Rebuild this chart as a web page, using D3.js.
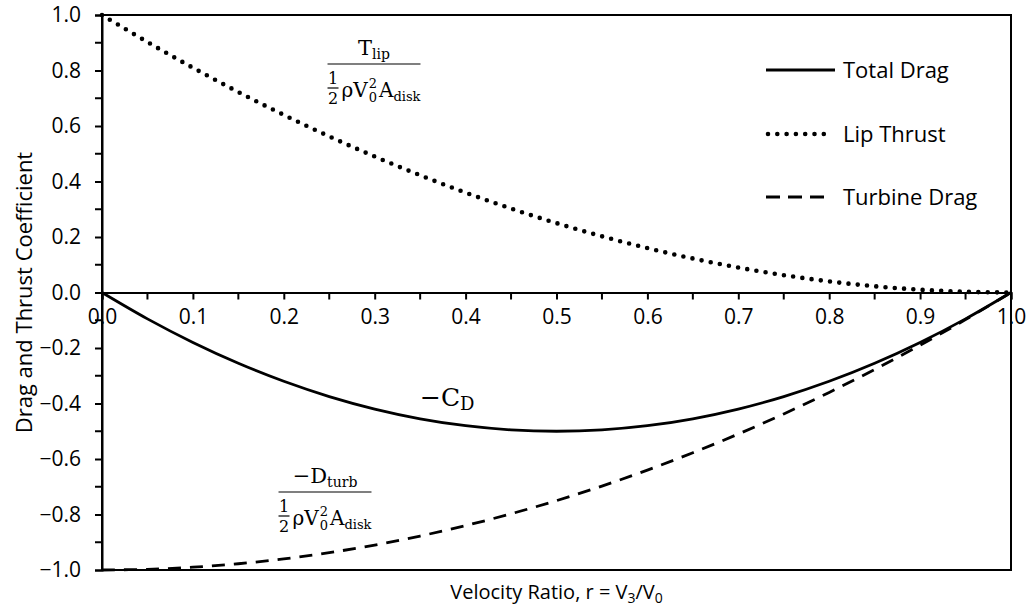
<!DOCTYPE html>
<html>
<head>
<meta charset="utf-8">
<script src="https://cdn.jsdelivr.net/npm/d3@7/dist/d3.min.js"></script>
<style>
  html, body { margin: 0; padding: 0; background: #fff; }
  svg { display: block; }
</style>
</head>
<body>
<svg id="chart" width="1032" height="611"></svg>
<script>
// Velocity ratio r = V3/V0
const ratio = [0, 0.05, 0.10, 0.15, 0.20, 0.25, 0.30, 0.35, 0.40, 0.45, 0.50,
               0.55, 0.60, 0.65, 0.70, 0.75, 0.80, 0.85, 0.90, 0.95, 1.00];
// Total drag coefficient (-C_D)
const totalDrag = [0, -0.095, -0.18, -0.255, -0.32, -0.375, -0.42, -0.455, -0.48, -0.495, -0.50,
                   -0.495, -0.48, -0.455, -0.42, -0.375, -0.32, -0.255, -0.18, -0.095, 0];
// Lip thrust coefficient
const lipThrust = [1.0, 0.9025, 0.81, 0.7225, 0.64, 0.5625, 0.49, 0.4225, 0.36, 0.3025, 0.25,
                   0.2025, 0.16, 0.1225, 0.09, 0.0625, 0.04, 0.0225, 0.01, 0.0025, 0];
// Turbine drag coefficient
const turbineDrag = [-1.0, -0.9975, -0.99, -0.9775, -0.96, -0.9375, -0.91, -0.8775, -0.84, -0.7975, -0.75,
                     -0.6975, -0.64, -0.5775, -0.51, -0.4375, -0.36, -0.2775, -0.19, -0.0975, 0];

const xTickValues = [0, 0.1, 0.2, 0.3, 0.4, 0.5, 0.6, 0.7, 0.8, 0.9, 1.0];
const xMinorTicks = [0.05, 0.15, 0.25, 0.35, 0.45, 0.55, 0.65, 0.75, 0.85, 0.95];
const yTickValues = [-1.0, -0.8, -0.6, -0.4, -0.2, 0.0, 0.2, 0.4, 0.6, 0.8, 1.0];
const yMinorTicks = [-0.9, -0.7, -0.5, -0.3, -0.1, 0.1, 0.3, 0.5, 0.7, 0.9];
const legendLabels = ["Total Drag", "Lip Thrust", "Turbine Drag"];

const svg = d3.select("#chart");
const plot = { left: 102, right: 1011, top: 15, bottom: 570 };

const x = d3.scaleLinear().domain([0, 1]).range([plot.left, plot.right]);
const y = d3.scaleLinear().domain([-1, 1]).range([plot.bottom, plot.top]);

const sans = '"Open Sans", sans-serif';
const serif = '"DejaVu Serif", serif';

// Plot frame
svg.append("rect")
  .attr("x", plot.left).attr("y", plot.top)
  .attr("width", plot.right - plot.left).attr("height", plot.bottom - plot.top)
  .attr("fill", "none").attr("stroke", "#000").attr("stroke-width", 2);

function styleAxis(g) {
  g.attr("font-family", sans).attr("font-size", 21);
  g.selectAll(".tick text").attr("fill", "#000");
  g.selectAll(".tick line").attr("stroke-width", 2);
  g.select(".domain").attr("stroke-width", 2);
}

// Y axis with every-0.1 ticks, labels every 0.2
const yAxis = svg.append("g")
  .attr("transform", `translate(${plot.left},0)`)
  .call(d3.axisLeft(y).tickValues(yTickValues).tickSize(7).tickPadding(14)
        .tickFormat(d3.format(".1f")))
  .call(styleAxis);
yAxis.append("g").selectAll("line").data(yMinorTicks).join("line")
  .attr("x1", 0).attr("x2", -7).attr("y1", d => y(d)).attr("y2", d => y(d))
  .attr("stroke", "#000").attr("stroke-width", 2);

// X axis on the zero line
const xAxis = svg.append("g")
  .attr("transform", `translate(0,${y(0)})`)
  .call(d3.axisBottom(x).tickValues(xTickValues).tickSize(7).tickPadding(10)
        .tickFormat(d3.format(".1f")))
  .call(styleAxis);
xAxis.append("g").selectAll("line").data(xMinorTicks).join("line")
  .attr("x1", d => x(d)).attr("x2", d => x(d)).attr("y1", 0).attr("y2", 7)
  .attr("stroke", "#000").attr("stroke-width", 2);

// Series
const lineGen = vals => d3.line()
  .x((d, i) => x(ratio[i]))
  .y(d => y(d))
  .curve(d3.curveCatmullRom)(vals);

const styles = [
  { dash: null, width: 2.8, cap: "butt" },
  { dash: "0 9.3", width: 4.6, cap: "round" },
  { dash: "13 9", width: 2.8, cap: "butt" }
];
[totalDrag, lipThrust, turbineDrag].forEach((vals, i) => {
  svg.append("path")
    .attr("d", lineGen(vals))
    .attr("fill", "none").attr("stroke", "#000")
    .attr("stroke-width", styles[i].width)
    .attr("stroke-linecap", styles[i].cap)
    .attr("stroke-dasharray", styles[i].dash);
});

// Legend
const legendRows = [70, 134, 197];
legendLabels.forEach((label, i) => {
  const st = styles[i];
  const x1 = 766, x2 = i === 1 ? 833 : (i === 2 ? 824 : 835);
  svg.append("line")
    .attr("x1", i === 1 ? 768 : x1).attr("x2", x2)
    .attr("y1", legendRows[i]).attr("y2", legendRows[i])
    .attr("stroke", "#000").attr("stroke-width", st.width)
    .attr("stroke-linecap", st.cap)
    .attr("stroke-dasharray", i === 1 ? "0 9.3" : (i === 2 ? "14 8" : null));
  svg.append("text")
    .attr("x", 843).attr("y", legendRows[i])
    .attr("dy", "0.35em")
    .attr("font-family", sans).attr("font-size", 22)
    .text(label);
});

// Axis titles
svg.append("text")
  .attr("x", (plot.left + plot.right) / 2).attr("y", 599)
  .attr("text-anchor", "middle")
  .attr("font-family", sans).attr("font-size", 20)
  .call(t => {
    t.append("tspan").text("Velocity Ratio, r = V");
    t.append("tspan").attr("font-size", 14).attr("dy", 4).text("3");
    t.append("tspan").attr("dy", -4).text("/V");
    t.append("tspan").attr("font-size", 14).attr("dy", 4).text("0");
  });

svg.append("text")
  .attr("transform", `translate(32,${y(0)}) rotate(-90)`)
  .attr("text-anchor", "middle")
  .attr("font-family", sans).attr("font-size", 22)
  .text("Drag and Thrust Coefficient");

// Annotated coefficient expressions
function fraction(cx, barY, numMain, numSub) {
  const g = svg.append("g");
  const put = (txt, px, py, size, anchor) => {
    const t = g.append("text").attr("x", px).attr("y", py)
      .attr("font-family", serif).attr("font-size", size)
      .attr("text-anchor", anchor || "start").text(txt);
    return t.node().getComputedTextLength();
  };
  // denominator: (1/2) rho V0^2 A_disk
  const hw = 11;
  put("1", hw / 2, barY + 20, 16, "middle");
  put("2", hw / 2, barY + 40, 16, "middle");
  g.append("line").attr("x1", 0).attr("x2", hw)
    .attr("y1", barY + 24).attr("y2", barY + 24)
    .attr("stroke", "#000").attr("stroke-width", 1.2);
  let cx0 = hw + 3;
  cx0 += put("ρV", cx0, barY + 33, 20);
  const s1 = put("2", cx0 + 1, barY + 24, 13);
  const s2 = put("0", cx0 + 1, barY + 38, 13);
  cx0 += Math.max(s1, s2) + 3;
  cx0 += put("A", cx0, barY + 33, 20);
  cx0 += put("disk", cx0, barY + 37, 13);
  const W = cx0;
  g.append("line").attr("x1", 0).attr("x2", W)
    .attr("y1", barY).attr("y2", barY)
    .attr("stroke", "#000").attr("stroke-width", 1.2);
  // numerator
  const num = g.append("text").attr("y", barY - 9)
    .attr("font-family", serif).attr("font-size", 21);
  num.append("tspan").text(numMain);
  num.append("tspan").attr("font-size", 14).attr("dy", 4).text(numSub);
  const nw = num.node().getComputedTextLength();
  num.attr("x", (W - nw) / 2);
  g.attr("transform", `translate(${cx - W / 2},0)`);
}
fraction(374, 64, "T", "lip");
fraction(325, 492, "−D", "turb");

svg.append("text")
  .attr("x", 420).attr("y", 406)
  .attr("font-family", serif).attr("font-size", 25)
  .call(t => {
    t.append("tspan").text("−C");
    t.append("tspan").attr("font-size", 18).attr("dy", 4).text("D");
  });
</script>
</body>
</html>
